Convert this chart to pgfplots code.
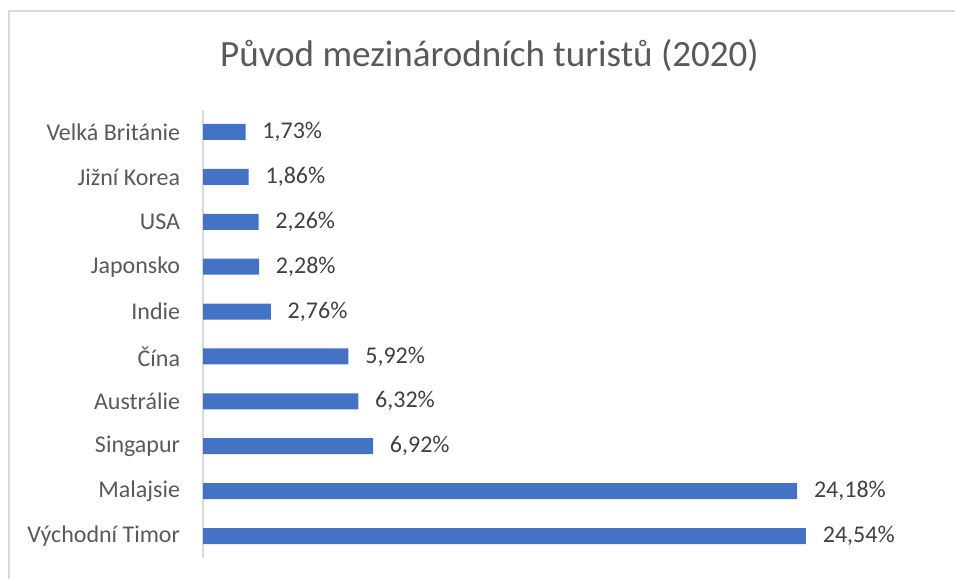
\documentclass[border=0pt]{standalone}
\usepackage{pgfplots}
\pgfplotsset{compat=1.18}
\usepackage{fontspec}
\setmainfont{Carlito}
\definecolor{barblue}{HTML}{4472C4}
\definecolor{txtgray}{HTML}{595959}
\definecolor{lblgray}{HTML}{404040}
\definecolor{framegray}{HTML}{D9D9D9}
\begin{document}
\begin{tikzpicture}
\path[use as bounding box] (0,0) rectangle (716.25pt,434.25pt);
\draw[framegray, line width=1.2pt] (6.75pt,0) -- (6.75pt,426pt) -- (716.25pt,426pt);
\node[anchor=base, text=txtgray, font=\fontsize{27.8}{30}\selectfont] at (367.1pt,384pt) {Původ mezinárodních turistů (2020)};
\begin{axis}[
  at={(152.25pt,15.4pt)}, anchor=south west,
  scale only axis, width=552.8pt, height=336.7pt,
  xmin=0, xmax=30, ymin=-0.5, ymax=9.5,
  axis x line=none,
  axis y line*=left,
  y axis line style={framegray, line width=1.2pt, -},
  major tick length=0pt,
  ytick={0,...,9},
  yticklabels={Východní Timor, Malajsie, Singapur, Austrálie, Čína, Indie, Japonsko, USA, Jižní Korea, Velká Británie},
  yticklabel style={anchor=east, inner sep=0pt, xshift=-17pt, text=txtgray, font=\fontsize{18}{20}\selectfont},
  xbar, bar width=12pt,
  point meta=explicit symbolic,
  nodes near coords,
  every node near coord/.style={anchor=west, inner sep=0pt, xshift=12.5pt, text=lblgray, font=\fontsize{18}{20}\selectfont},
  clip=false,
]
\addplot[fill=barblue, draw=none] table[x=v, y=c, meta=l] {
c v l
0 24.54 24,54\%
1 24.18 24,18\%
2 6.92 6,92\%
3 6.32 6,32\%
4 5.92 5,92\%
5 2.76 2,76\%
6 2.28 2,28\%
7 2.26 2,26\%
8 1.86 1,86\%
9 1.73 1,73\%
};
\end{axis}
\end{tikzpicture}
\end{document}
